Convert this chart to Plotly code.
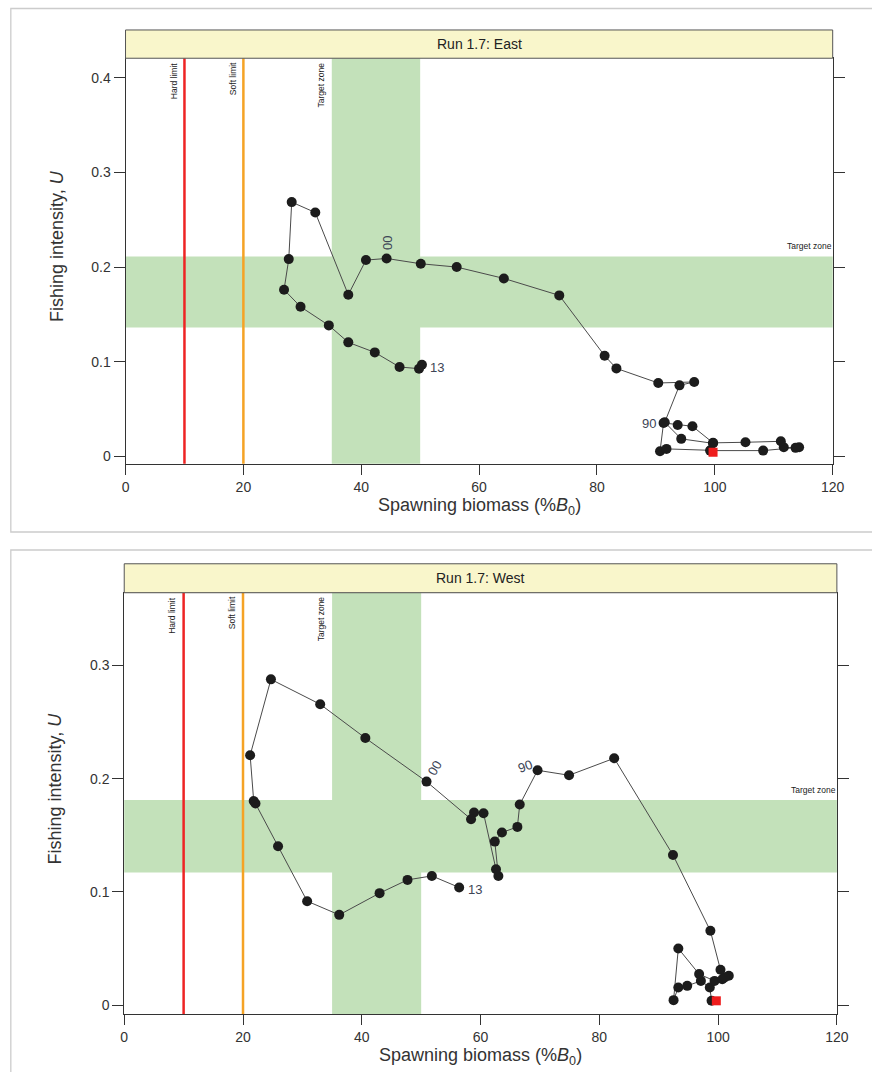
import plotly.graph_objects as go

# ---------------- data ----------------
east_biomass = [99.2, 108.2, 114.3, 113.7, 111.7, 111.2, 105.2, 99.7, 96.2, 93.7, 91.3, 90.7, 91.8, 99.3,
                99.7, 94.3, 91.5, 94.0, 96.5, 90.4, 83.3, 81.3, 73.6, 64.2, 56.2, 50.1, 44.3, 40.8, 37.8,
                32.2, 28.2, 27.7, 26.9, 29.7, 34.5, 37.8, 42.3, 46.5, 49.8, 50.3]
east_u = [0.0063, 0.0063, 0.0098, 0.0092, 0.0098, 0.0161, 0.0151, 0.0145, 0.0320, 0.0334, 0.0355, 0.0056,
          0.0081, 0.0066, 0.0140, 0.0187, 0.0362, 0.0752, 0.0788, 0.0777, 0.0931, 0.1065, 0.1702, 0.1881,
          0.2001, 0.2036, 0.2092, 0.2075, 0.1709, 0.2577, 0.2687, 0.2085, 0.1762, 0.1582, 0.1385, 0.1206,
          0.1100, 0.0946, 0.0928, 0.0970]
east_red = [99.7, 0.0045]
east_year_labels = ["90", "00", "13"]
east_label_index = [16, 26, 39]
east_target_u = [0.1364, 0.2113]

west_biomass = [98.9, 98.6, 97.1, 94.8, 93.3, 92.5, 93.3, 96.8, 99.4, 100.7, 101.8, 101.1, 100.4, 98.7,
                92.4, 82.5, 74.9, 69.6, 66.6, 66.2, 63.6, 62.4, 63.0, 62.6, 60.5, 58.9, 58.4, 50.9, 40.6,
                33.0, 24.7, 21.2, 21.8, 22.1, 25.9, 30.8, 36.2, 43.0, 47.7, 51.8, 56.4]
west_u = [0.0038, 0.0156, 0.0214, 0.0170, 0.0156, 0.0044, 0.0500, 0.0274, 0.0214, 0.0229, 0.0259, 0.0245,
          0.0312, 0.0656, 0.1326, 0.2180, 0.2030, 0.2074, 0.1771, 0.1574, 0.1524, 0.1444, 0.1141, 0.1200,
          0.1695, 0.1701, 0.1642, 0.1974, 0.2359, 0.2657, 0.2877, 0.2207, 0.1803, 0.1780, 0.1403, 0.0918,
          0.0797, 0.0989, 0.1106, 0.1141, 0.1039]
west_red = [99.7, 0.0038]
west_year_labels = ["90", "00", "13"]
west_label_index = [17, 27, 40]
west_target_u = [0.1171, 0.1812]

target_biomass = [35, 50]
hard_limit = 10
soft_limit = 20
x_ticks = [0, 20, 40, 60, 80, 100, 120]
east_y_ticks = [0, 0.1, 0.2, 0.3, 0.4]
west_y_ticks = [0, 0.1, 0.2, 0.3]
titles = ["Run 1.7: East", "Run 1.7: West"]

# ---------------- style ----------------
W, H = 872, 1072
FONT = "Liberation Sans, Arial, sans-serif"
GREEN = "#c3e1ba"
TXT = "#333333"
LBL = "#3d4556"
SX_A, SX_B = 3.68, 0.9824   # horizontal compensation observed in the renderer


def px(x):
    return (x - SX_A) / SX_B / W


def py(y):
    return 1 - y / H


panels = [
    dict(x0=125.3, x1=833.0, y0=58.3, y1=464.3, yr=[-0.0077, 0.4206], strip_top=30.0,
         ytitle=(56, 246), xtitle=(480, 506.7),
         lab_style=[(-16, 1, 0), (1, -15, -90), (15, 3, 0)]),
    dict(x0=124.0, x1=837.2, y0=593.3, y1=1015.0, yr=[-0.0079, 0.3642], strip_top=564.3,
         ytitle=(55, 789), xtitle=(481, 1057.4),
         lab_style=[(-13, -4, -20), (8, -13, -60), (16, 2, 0)]),
]

datasets = [
    (east_biomass, east_u, east_red, east_year_labels, east_label_index, east_target_u, east_y_ticks),
    (west_biomass, west_u, west_red, west_year_labels, west_label_index, west_target_u, west_y_ticks),
]

fig = go.Figure()
shapes = []
annotations = []
layout_axes = {}

# card borders
shapes.append(dict(type="rect", xref="paper", yref="paper", x0=px(10.5), x1=px(920), y0=py(532.5), y1=py(8.5),
                   line=dict(color="#cccccc", width=1.3), fillcolor="rgba(0,0,0,0)", layer="below"))
shapes.append(dict(type="rect", xref="paper", yref="paper", x0=px(10.5), x1=px(920), y0=py(1100), y1=py(550.5),
                   line=dict(color="#cccccc", width=1.3), fillcolor="rgba(0,0,0,0)", layer="below"))

for i, (p, d) in enumerate(zip(panels, datasets)):
    bx, bu, red, ylabs, yidx, tu, yt = d
    n = "" if i == 0 else str(i + 1)
    xa, ya = "x" + n, "y" + n
    xkey, ykey = "xaxis" + n, "yaxis" + n

    fig.add_trace(go.Scatter(
        x=bx, y=bu, mode="lines+markers", xaxis=xa, yaxis=ya,
        line=dict(color="#4a4a4a", width=1),
        marker=dict(color="#1c1c1c", size=10, line=dict(width=0)),
        showlegend=False, hoverinfo="skip"))
    fig.add_trace(go.Scatter(
        x=[red[0]], y=[red[1]], mode="markers", xaxis=xa, yaxis=ya,
        marker=dict(color="#ee1c1c", size=9, symbol="square", line=dict(width=0)),
        showlegend=False, hoverinfo="skip"))

    axis_common = dict(showgrid=False, zeroline=False, showline=True, linecolor="#333333", linewidth=1,
                       ticks="outside", ticklen=10, tickwidth=1, tickcolor="#333333",
                       tickfont=dict(family=FONT, size=14, color=TXT))
    layout_axes[xkey] = dict(axis_common, domain=[px(p["x0"]), px(p["x1"])], range=[0, 120],
                             tickvals=x_ticks, mirror=True, anchor=ya)
    layout_axes[ykey] = dict(axis_common, domain=[py(p["y1"]), py(p["y0"])], range=p["yr"],
                             tickvals=yt, ticktext=[("%g" % v) for v in yt], mirror="ticks",
                             anchor=xa, ticklen=11)

    xr = xa
    yd = ya + " domain"
    # target zones
    shapes.append(dict(type="rect", xref=xr, yref=yd, x0=target_biomass[0], x1=target_biomass[1], y0=0, y1=1,
                       fillcolor=GREEN, line=dict(width=0), layer="below"))
    shapes.append(dict(type="rect", xref=xa + " domain", yref=ya, x0=0, x1=1, y0=tu[0], y1=tu[1],
                       fillcolor=GREEN, line=dict(width=0), layer="below"))
    # limit lines
    shapes.append(dict(type="line", xref=xr, yref=yd, x0=hard_limit, x1=hard_limit, y0=0, y1=1,
                       line=dict(color="#ee2424", width=2.5), layer="below"))
    shapes.append(dict(type="line", xref=xr, yref=yd, x0=soft_limit, x1=soft_limit, y0=0, y1=1,
                       line=dict(color="#f5a325", width=2.5), layer="below"))
    # strip
    shapes.append(dict(type="rect", xref="paper", yref="paper", x0=px(p["x0"]), x1=px(p["x1"]),
                       y0=py(p["y0"]), y1=py(p["strip_top"]), fillcolor="#f9f6cb",
                       line=dict(color="#555555", width=1), layer="above"))
    annotations.append(dict(xref="paper", yref="paper", x=px((p["x0"] + p["x1"]) / 2),
                            y=py((p["y0"] + p["strip_top"]) / 2), text=titles[i], showarrow=False,
                            font=dict(family=FONT, size=14, color="#222222"),
                            xanchor="center", yanchor="middle"))
    # vertical limit labels
    for xv, t in [(hard_limit, "Hard limit"), (soft_limit, "Soft limit"), (target_biomass[0], "Target zone")]:
        annotations.append(dict(xref=xr, yref=yd, x=xv, y=1, text=t, showarrow=False, textangle=-90,
                                xanchor="center", yanchor="top", xshift=-11, yshift=-2,
                                font=dict(family=FONT, size=8.5, color="#222222")))
    # horizontal target label
    annotations.append(dict(xref=xr, yref=ya, x=120, y=tu[1], text="Target zone", showarrow=False,
                            xanchor="right", yanchor="middle", yshift=10, xshift=1,
                            font=dict(family=FONT, size=8.5, color="#222222")))
    # year labels
    for (dx, dy, ang), lab, k in zip(p["lab_style"], ylabs, yidx):
        annotations.append(dict(xref=xr, yref=ya, x=bx[k], y=bu[k], text=lab, showarrow=False,
                                xshift=dx, yshift=-dy, textangle=ang, xanchor="center", yanchor="middle",
                                font=dict(family=FONT, size=13, color=LBL)))
    # axis titles
    annotations.append(dict(xref="paper", yref="paper", x=px(p["ytitle"][0]), y=py(p["ytitle"][1]),
                            text="Fishing intensity, <i>U</i>", showarrow=False, textangle=-90,
                            xanchor="center", yanchor="middle",
                            font=dict(family=FONT, size=18, color=TXT)))
    annotations.append(dict(xref="paper", yref="paper", x=px(p["xtitle"][0]), y=py(p["xtitle"][1]),
                            text="Spawning biomass (%<i>B</i><sub>0</sub>)", showarrow=False,
                            xanchor="center", yanchor="middle",
                            font=dict(family=FONT, size=18, color=TXT)))

fig.update_layout(
    width=W, height=H, autosize=False,
    margin=dict(l=0, r=0, t=0, b=0),
    paper_bgcolor="white", plot_bgcolor="white",
    shapes=shapes, annotations=annotations,
    font=dict(family=FONT),
    **layout_axes,
)

fig.write_html("out.html")
